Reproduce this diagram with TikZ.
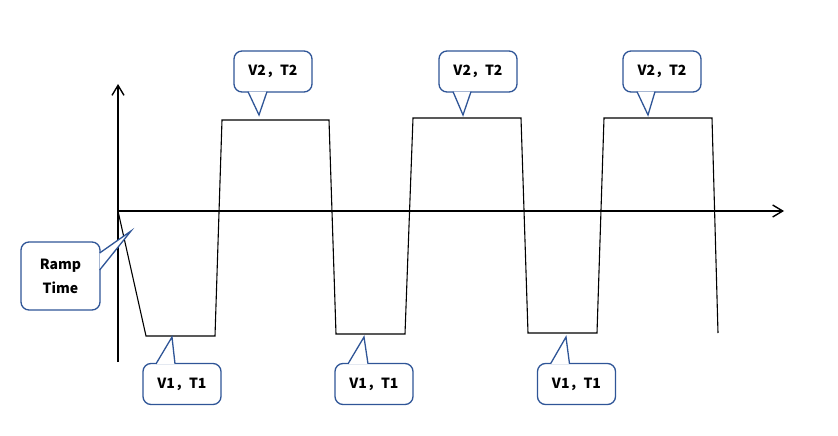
\documentclass[tikz,border=0pt]{standalone}
\usepackage{fontspec}
\newfontfamily\cjk{Noto Sans CJK SC}
\usetikzlibrary{arrows.meta,calc}
\definecolor{bubbleblue}{RGB}{47,85,151}

\begin{document}
\begin{tikzpicture}
		[
			x=1pt, y=-1pt,
			axis/.style={line width=1.4pt, -{Straight Barb[length=10pt, width=12pt]}},
			wave/.style={line width=1.1pt, line join=miter},
			bubble/.style={rectangle, rounded corners=8pt, draw=bubbleblue, line width=1.3pt, fill=white,
				minimum width=78pt, minimum height=41pt, inner sep=0pt,
				font=\cjk\bfseries\fontsize{14}{24}\selectfont},
			rampbubble/.style={bubble, minimum width=79pt, minimum height=68pt, align=center},
			pointer/.style={draw=bubbleblue, line width=1.3pt, fill=white, line join=miter},
		]

		\useasboundingbox (0,0) rectangle (838,436);

		% Axes
		\coordinate (o) at (118,211);
		\coordinate (ytop) at (118,84);
		\coordinate (ybot) at (118,362);
		\coordinate (xend) at (784,211);
		\draw[axis] (ybot) -- (ytop);
		\draw[axis] (o) -- (xend);

		% Waveform corners
		\foreach \name/\x/\y in
		{
			w1/146/336,  w2/215/336,  w3/222/120,  w4/329/120,
			w5/336/334,  w6/405/334,  w7/413/118,  w8/521/118,
			w9/528/333,  w10/597/333, w11/604/118, w12/712/118,
			w13/718/333
		}
			\coordinate (\name) at (\x,\y);

		\draw[wave] (o) -- (w1) -- (w2) -- (w3) -- (w4) -- (w5) -- (w6) -- (w7)
			-- (w8) -- (w9) -- (w10) -- (w11) -- (w12) -- (w13);

		% Bubbles
		\foreach \name/\x/\y/\txt in
		{
			high1/273/71.5/{V2，T2},
			high2/478/71.5/{V2，T2},
			high3/662/71.5/{V2，T2},
			low1/182/384/{V1，T1},
			low2/374/384/{V1，T1},
			low3/576.5/384/{V1，T1}
		}
			\node[bubble] (\name) at (\x,\y) {\txt};

		\node[rampbubble] (ramp) at (60.5,276) {Ramp\\Time};

		% Pointer tips
		\foreach \name/\x/\y in
		{
			tiph1/259/115, tiph2/463/115, tiph3/648/115,
			tipl1/172/337, tipl2/364/337, tipl3/566/337,
			tipramp/131/231}
			\coordinate (\name) at (\x,\y);

		% Pointers
		\foreach \name/\side/\ax/\ay/\bx/\by/\tip in
		{
			high1/south/-25/-1/-6/-1/tiph1,
			high2/south/-25/-1/-7/-1/tiph2,
			high3/south/-25/-1/-7/-1/tiph3,
			low1/north/-26/1/-7/1/tipl1,
			low2/north/-26/1/-6/1/tipl2,
			low3/north/-26/1/-7/1/tipl3,
			ramp/east/-1/-23/-1/-6/tipramp}
			\draw[pointer] ($(\name.\side)+(\ax,\ay)$) -- (\tip) -- ($(\name.\side)+(\bx,\by)$);

		\end{tikzpicture}
\end{document}
